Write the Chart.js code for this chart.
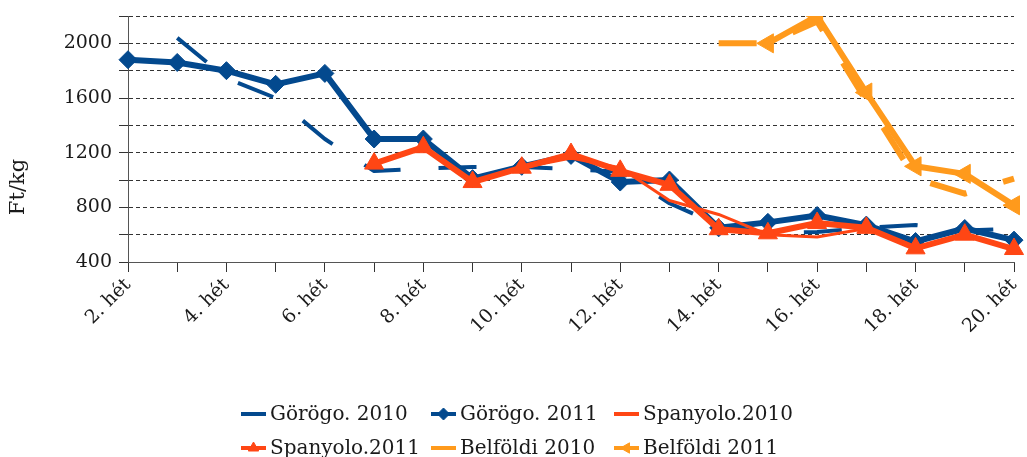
<!DOCTYPE html>
<html>
<head>
<meta charset="utf-8">
<script src="https://cdn.jsdelivr.net/npm/chart.js@4.4.1/dist/chart.umd.min.js"></script>
<style>
html, body { margin: 0; padding: 0; background: #fff; }
#wrap { width: 1027px; height: 457px; }
</style>
</head>
<body>
<div id="wrap"><canvas id="arakChart"></canvas></div>
<script>
// hetek (x tengely)
const hetek = ["2. hét", "3. hét", "4. hét", "5. hét", "6. hét", "7. hét", "8. hét", "9. hét", "10. hét", "11. hét",
    "12. hét", "13. hét", "14. hét", "15. hét", "16. hét", "17. hét", "18. hét", "19. hét", "20. hét"];

// Ft/kg ertekek, a kepről leolvasva
const gorog2010 = [null, 2040, 1745, 1600, 1300, 1065, 1085, 1095, 1095, 1080, 1060, 830, 670, 610, 620, 650, 670, 630, 645];
const gorog2011 = [1880, 1860, 1800, 1700, 1780, 1300, 1300, 1010, 1100, 1180, 985, 1000, 650, 690, 740, 670, 550, 645, 560];
const spany2010 = [null, null, null, null, null, 1120, 1250, 980, 1090, 1160, 1090, 850, 748, 600, 583, 645, 505, 600, 500];
const spany2011 = [null, null, null, null, null, 1120, 1240, 985, 1090, 1190, 1067, 965, 640, 610, 685, 650, 500, 600, 495];
const belf2010 = [null, null, null, null, null, null, null, null, null, null, null, null, 2000, 2000, 2160, 1580, 1010, 900, 1010];
const belf2011 = [null, null, null, null, null, null, null, null, null, null, null, null, null, 2000, 2200, 1640, 1100, 1045, 815];

const kek = "#03498E";
const piros = "#FF4614";
const narancs = "#FF9A1C";
const betu = "DejaVu Serif";

// sajat jelmagyarazat + tengelycim
const jelmagyarazat = {
    id: "jelmagyarazat",
    afterDraw(chart) {
        const ctx = chart.ctx;
        ctx.save();
        ctx.fillStyle = "#1a1a1a";
        ctx.font = "21px '" + betu + "'";
        ctx.textAlign = "center";
        ctx.textBaseline = "middle";
        ctx.translate(19, 187);
        ctx.rotate(-Math.PI / 2);
        ctx.fillText("Ft/kg", 0, 0);
        ctx.restore();

        const oszlopok = [241, 431, 614];
        ctx.save();
        ctx.font = "20px '" + betu + "'";
        ctx.textBaseline = "middle";
        chart.data.datasets.forEach((ds, i) => {
            const x = oszlopok[i % 3];
            const y = 414 + Math.floor(i / 3) * 34;
            ctx.strokeStyle = ds.borderColor;
            ctx.fillStyle = ds.borderColor;
            ctx.lineWidth = 4;
            ctx.beginPath();
            ctx.moveTo(x, y);
            ctx.lineTo(x + 25, y);
            ctx.stroke();
            if (ds.pointRadius > 0) {
                ctx.lineWidth = 1;
                Chart.helpers.drawPoint(ctx, {
                    pointStyle: ds.pointStyle,
                    rotation: ds.pointRotation || 0,
                    radius: 6,
                    borderWidth: 1
                }, x + 12.5, y);
            }
            ctx.fillStyle = "#1a1a1a";
            ctx.fillText(ds.label, x + 29, y + 1);
        });
        ctx.restore();
    }
};

const arakChart = new Chart(document.getElementById("arakChart"), {
    type: "line",
    data: {
        labels: hetek,
        datasets: [
            {
                label: "Görögo. 2010", data: gorog2010, order: 6,
                borderColor: kek, borderWidth: 4, borderDash: [38, 38],
                pointRadius: 0
            },
            {
                label: "Görögo. 2011", data: gorog2011, order: 5,
                borderColor: kek, backgroundColor: kek, borderWidth: 6,
                pointStyle: "rectRot", pointRadius: 9, pointBorderWidth: 1
            },
            {
                label: "Spanyolo.2010", data: spany2010, order: 4,
                borderColor: piros, borderWidth: 3,
                pointRadius: 0
            },
            {
                label: "Spanyolo.2011", data: spany2011, order: 3,
                borderColor: piros, backgroundColor: piros, borderWidth: 6,
                pointStyle: "triangle", pointRadius: 11, pointBorderWidth: 1
            },
            {
                label: "Belföldi 2010", data: belf2010, order: 2,
                borderColor: narancs, borderWidth: 6, borderDash: [38, 38],
                pointRadius: 0
            },
            {
                label: "Belföldi 2011", data: belf2011, order: 1,
                borderColor: narancs, backgroundColor: narancs, borderWidth: 6,
                pointStyle: "triangle", pointRotation: -90, pointRadius: 11, pointBorderWidth: 1
            }
        ]
    },
    options: {
        responsive: true,
        maintainAspectRatio: false,
        animation: false,
        devicePixelRatio: 1,
        layout: { padding: { top: 16, right: 13, bottom: 75, left: 0 } },
        elements: { line: { tension: 0, borderJoinStyle: "round", fill: false } },
        plugins: {
            legend: { display: false },
            tooltip: { enabled: false }
        },
        scales: {
            x: {
                offset: false,
                afterFit: (s) => { s.height = 120; s.paddingRight = 0; s.paddingLeft = 0; },
                grid: { drawOnChartArea: false, drawTicks: true, tickLength: 10, tickColor: "#333", tickWidth: 1 },
                border: { color: "#555", width: 1 },
                ticks: {
                    autoSkip: false, maxRotation: 45, minRotation: 45, padding: 2,
                    color: "#1a1a1a", font: { family: betu, size: 19 },
                    callback: function (v, i) { return i % 2 === 0 ? hetek[i] : ""; }
                }
            },
            y: {
                min: 400, max: 2200,
                afterFit: (s) => { s.width = 128; s.paddingTop = 0; s.paddingBottom = 0; },
                grid: { color: "#333", lineWidth: 1, tickLength: 9, tickColor: "#333" },
                border: { color: "#555", width: 1, dash: [4, 3] },
                ticks: {
                    stepSize: 200, padding: 7,
                    color: "#1a1a1a", font: { family: betu, size: 19 },
                    callback: (v) => ((v - 400) % 400 === 0 && v < 2200 ? v : "")
                }
            }
        }
    },
    plugins: [jelmagyarazat]
});
</script>
</body>
</html>
